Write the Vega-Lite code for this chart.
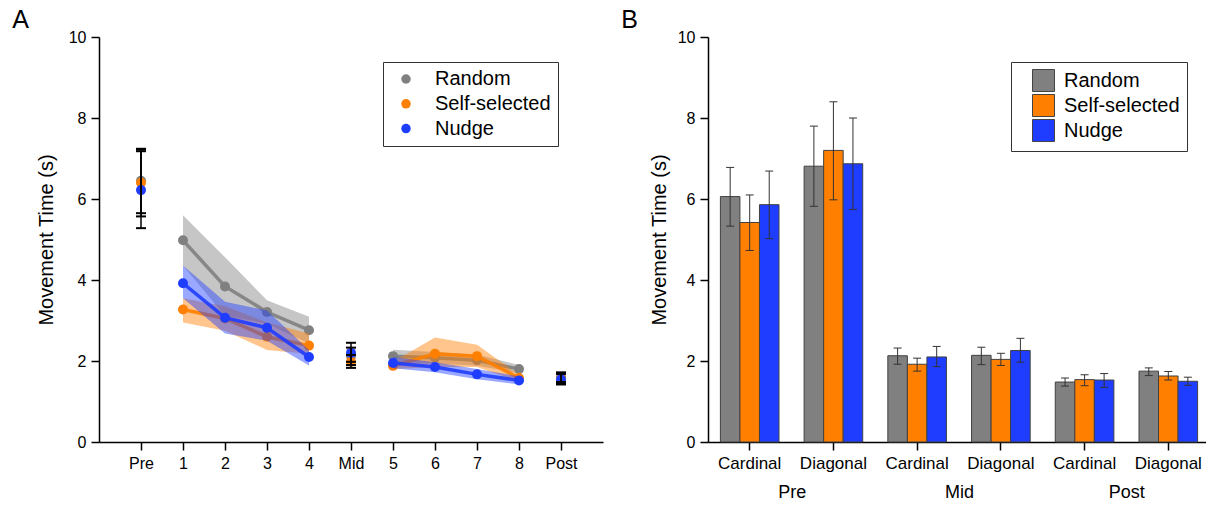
{
  "$schema": "https://vega.github.io/schema/vega-lite/v6.json",
  "padding": {"left": 12, "top": 8, "right": 0, "bottom": 0},
  "background": "white",
  "config": {
    "font": "Liberation Sans",
    "view": {"stroke": null},
    "axis": {"domainColor": "#000", "tickColor": "#000", "labelColor": "#000", "titleColor": "#000", "labelFontSize": 16, "titleFontSize": 20, "titleFontWeight": "normal", "grid": false, "tickSize": 8, "domainWidth": 1.5, "tickWidth": 1.5, "labelPadding": 5},
    "legend": {"labelFontSize": 20, "labelColor": "#000", "strokeColor": "#333", "cornerRadius": 0},
    "title": {"fontSize": 25, "fontWeight": "normal", "anchor": "start", "color": "#000"}
  },
  "datasets": {
    "a": [
      {"x": "Pre", "grp": "Random", "seg": "Pre", "m": 6.45, "lo": 5.65, "hi": 7.24},
      {"x": "1", "grp": "Random", "seg": "early", "m": 4.98, "lo": 4.36, "hi": 5.6},
      {"x": "2", "grp": "Random", "seg": "early", "m": 3.84, "lo": 3.12, "hi": 4.56},
      {"x": "3", "grp": "Random", "seg": "early", "m": 3.21, "lo": 2.92, "hi": 3.5},
      {"x": "4", "grp": "Random", "seg": "early", "m": 2.76, "lo": 2.43, "hi": 3.09},
      {"x": "Mid", "grp": "Random", "seg": "Mid", "m": 2.12, "lo": 1.9, "hi": 2.33},
      {"x": "5", "grp": "Random", "seg": "late", "m": 2.12, "lo": 1.97, "hi": 2.28},
      {"x": "6", "grp": "Random", "seg": "late", "m": 2.08, "lo": 1.94, "hi": 2.22},
      {"x": "7", "grp": "Random", "seg": "late", "m": 2.02, "lo": 1.88, "hi": 2.16},
      {"x": "8", "grp": "Random", "seg": "late", "m": 1.8, "lo": 1.7, "hi": 1.9},
      {"x": "Post", "grp": "Random", "seg": "Post", "m": 1.6, "lo": 1.48, "hi": 1.72},
      {"x": "Pre", "grp": "Self-selected", "seg": "Pre", "m": 6.4, "lo": 5.57, "hi": 7.22},
      {"x": "1", "grp": "Self-selected", "seg": "early", "m": 3.27, "lo": 2.95, "hi": 3.55},
      {"x": "2", "grp": "Self-selected", "seg": "early", "m": 3.05, "lo": 2.75, "hi": 3.35},
      {"x": "3", "grp": "Self-selected", "seg": "early", "m": 2.6, "lo": 2.27, "hi": 2.95},
      {"x": "4", "grp": "Self-selected", "seg": "early", "m": 2.38, "lo": 2.17, "hi": 2.68},
      {"x": "Mid", "grp": "Self-selected", "seg": "Mid", "m": 1.98, "lo": 1.83, "hi": 2.15},
      {"x": "5", "grp": "Self-selected", "seg": "late", "m": 1.88, "lo": 1.8, "hi": 1.98},
      {"x": "6", "grp": "Self-selected", "seg": "late", "m": 2.18, "lo": 1.85, "hi": 2.58},
      {"x": "7", "grp": "Self-selected", "seg": "late", "m": 2.12, "lo": 1.85, "hi": 2.4},
      {"x": "8", "grp": "Self-selected", "seg": "late", "m": 1.58, "lo": 1.5, "hi": 1.66},
      {"x": "Post", "grp": "Self-selected", "seg": "Post", "m": 1.57, "lo": 1.44, "hi": 1.7},
      {"x": "Pre", "grp": "Nudge", "seg": "Pre", "m": 6.22, "lo": 5.28, "hi": 7.18},
      {"x": "1", "grp": "Nudge", "seg": "early", "m": 3.92, "lo": 3.55, "hi": 4.36},
      {"x": "2", "grp": "Nudge", "seg": "early", "m": 3.07, "lo": 2.68, "hi": 3.46},
      {"x": "3", "grp": "Nudge", "seg": "early", "m": 2.82, "lo": 2.5, "hi": 3.25},
      {"x": "4", "grp": "Nudge", "seg": "early", "m": 2.1, "lo": 1.89, "hi": 2.27},
      {"x": "Mid", "grp": "Nudge", "seg": "Mid", "m": 2.2, "lo": 1.98, "hi": 2.45},
      {"x": "5", "grp": "Nudge", "seg": "late", "m": 1.95, "lo": 1.82, "hi": 2.1},
      {"x": "6", "grp": "Nudge", "seg": "late", "m": 1.85, "lo": 1.72, "hi": 1.97},
      {"x": "7", "grp": "Nudge", "seg": "late", "m": 1.67, "lo": 1.55, "hi": 1.8},
      {"x": "8", "grp": "Nudge", "seg": "late", "m": 1.52, "lo": 1.42, "hi": 1.62},
      {"x": "Post", "grp": "Nudge", "seg": "Post", "m": 1.55, "lo": 1.42, "hi": 1.68}
    ],
    "b": [
      {"cond": "Pre|Cardinal", "phase": "Pre", "grp": "Random", "m": 6.06, "lo": 5.33, "hi": 6.78},
      {"cond": "Pre|Cardinal", "phase": "Pre", "grp": "Self-selected", "m": 5.42, "lo": 4.73, "hi": 6.1},
      {"cond": "Pre|Cardinal", "phase": "Pre", "grp": "Nudge", "m": 5.86, "lo": 5.02, "hi": 6.69},
      {"cond": "Pre|Diagonal", "phase": "Pre", "grp": "Random", "m": 6.81, "lo": 5.82, "hi": 7.8},
      {"cond": "Pre|Diagonal", "phase": "Pre", "grp": "Self-selected", "m": 7.2, "lo": 5.98, "hi": 8.4},
      {"cond": "Pre|Diagonal", "phase": "Pre", "grp": "Nudge", "m": 6.87, "lo": 5.74, "hi": 8.0},
      {"cond": "Mid|Cardinal", "phase": "Mid", "grp": "Random", "m": 2.13, "lo": 1.92, "hi": 2.32},
      {"cond": "Mid|Cardinal", "phase": "Mid", "grp": "Self-selected", "m": 1.92, "lo": 1.75, "hi": 2.07},
      {"cond": "Mid|Cardinal", "phase": "Mid", "grp": "Nudge", "m": 2.1, "lo": 1.86, "hi": 2.36},
      {"cond": "Mid|Diagonal", "phase": "Mid", "grp": "Random", "m": 2.14, "lo": 1.91, "hi": 2.34},
      {"cond": "Mid|Diagonal", "phase": "Mid", "grp": "Self-selected", "m": 2.04, "lo": 1.89, "hi": 2.19},
      {"cond": "Mid|Diagonal", "phase": "Mid", "grp": "Nudge", "m": 2.26, "lo": 1.97, "hi": 2.56},
      {"cond": "Post|Cardinal", "phase": "Post", "grp": "Random", "m": 1.48, "lo": 1.38, "hi": 1.58},
      {"cond": "Post|Cardinal", "phase": "Post", "grp": "Self-selected", "m": 1.54, "lo": 1.39, "hi": 1.66},
      {"cond": "Post|Cardinal", "phase": "Post", "grp": "Nudge", "m": 1.53, "lo": 1.35, "hi": 1.69},
      {"cond": "Post|Diagonal", "phase": "Post", "grp": "Random", "m": 1.75, "lo": 1.64, "hi": 1.83},
      {"cond": "Post|Diagonal", "phase": "Post", "grp": "Self-selected", "m": 1.63, "lo": 1.53, "hi": 1.74},
      {"cond": "Post|Diagonal", "phase": "Post", "grp": "Nudge", "m": 1.5, "lo": 1.4, "hi": 1.6}
    ]
  },
  "hconcat": [
    {
      "width": 504,
      "height": 405,
      "title": {"text": "A", "dx": -24, "offset": -4},
      "data": {"name": "a"},
      "encoding": {
        "x": {"field": "x", "type": "ordinal", "scale": {"type": "point", "padding": 1, "domain": ["Pre", "1", "2", "3", "4", "Mid", "5", "6", "7", "8", "Post"]}, "axis": {"title": null, "labelAngle": 0}}
      },
      "layer": [
        {"transform": [{"filter": "datum.grp === 'Random' && (datum.seg === 'early' || datum.seg === 'late')"}],
         "mark": {"type": "area", "opacity": 0.45},
         "encoding": {"y": {"field": "lo", "type": "quantitative", "scale": {"domain": [0, 10], "nice": false}, "axis": {"title": "Movement Time (s)", "values": [0, 2, 4, 6, 8, 10], "titlePadding": 12}}, "y2": {"field": "hi"}, "color": {"field": "grp", "type": "nominal"}, "detail": {"field": "seg"}}},
        {"transform": [{"filter": "datum.grp === 'Random' && (datum.seg === 'early' || datum.seg === 'late')"}],
         "mark": {"type": "line", "strokeWidth": 3.5, "opacity": 0.9},
         "encoding": {"y": {"field": "m", "type": "quantitative"}, "color": {"field": "grp", "type": "nominal"}, "detail": {"field": "seg"}}},
        {"transform": [{"filter": "datum.grp === 'Random'"}],
         "mark": {"type": "circle", "size": 100, "opacity": 1},
         "encoding": {"y": {"field": "m", "type": "quantitative"}, "color": {"field": "grp", "type": "nominal"}}},
        {"transform": [{"filter": "datum.grp === 'Self-selected' && (datum.seg === 'early' || datum.seg === 'late')"}],
         "mark": {"type": "area", "opacity": 0.45},
         "encoding": {"y": {"field": "lo", "type": "quantitative"}, "y2": {"field": "hi"}, "color": {"field": "grp", "type": "nominal"}, "detail": {"field": "seg"}}},
        {"transform": [{"filter": "datum.grp === 'Self-selected' && (datum.seg === 'early' || datum.seg === 'late')"}],
         "mark": {"type": "line", "strokeWidth": 3.5, "opacity": 0.9},
         "encoding": {"y": {"field": "m", "type": "quantitative"}, "color": {"field": "grp", "type": "nominal"}, "detail": {"field": "seg"}}},
        {"transform": [{"filter": "datum.grp === 'Self-selected'"}],
         "mark": {"type": "circle", "size": 100, "opacity": 1},
         "encoding": {"y": {"field": "m", "type": "quantitative"}, "color": {"field": "grp", "type": "nominal"}}},
        {"transform": [{"filter": "datum.grp === 'Nudge' && (datum.seg === 'early' || datum.seg === 'late')"}],
         "mark": {"type": "area", "opacity": 0.45},
         "encoding": {"y": {"field": "lo", "type": "quantitative"}, "y2": {"field": "hi"}, "color": {"field": "grp", "type": "nominal"}, "detail": {"field": "seg"}}},
        {"transform": [{"filter": "datum.grp === 'Nudge' && (datum.seg === 'early' || datum.seg === 'late')"}],
         "mark": {"type": "line", "strokeWidth": 3.5, "opacity": 0.9},
         "encoding": {"y": {"field": "m", "type": "quantitative"}, "color": {"field": "grp", "type": "nominal"}, "detail": {"field": "seg"}}},
        {"transform": [{"filter": "datum.grp === 'Nudge'"}],
         "mark": {"type": "circle", "size": 100, "opacity": 1},
         "encoding": {"y": {"field": "m", "type": "quantitative"},
           "color": {"field": "grp", "type": "nominal",
             "scale": {"domain": ["Random", "Self-selected", "Nudge"], "range": ["#808080", "#ff7f00", "#1f3dff"]},
             "legend": {"orient": "none", "legendX": 284, "legendY": 25, "title": null, "padding": 7, "symbolType": "circle", "symbolSize": 90, "symbolOffset": 6, "labelOffset": 19, "rowPadding": 4.8, "symbolStrokeWidth": 0, "symbolOpacity": 1,
               "encode": {"symbols": {"update": {"opacity": {"value": 1}, "fillOpacity": {"value": 1}, "strokeWidth": {"value": 0}}}}}}}},
        {"transform": [{"filter": "datum.seg === 'Pre' || datum.seg === 'Mid' || datum.seg === 'Post'"}],
         "mark": {"type": "rule", "color": "#000", "strokeWidth": 1.5},
         "encoding": {"y": {"field": "lo", "type": "quantitative"}, "y2": {"field": "hi"}}},
        {"transform": [{"filter": "datum.seg === 'Pre' || datum.seg === 'Mid' || datum.seg === 'Post'"}],
         "mark": {"type": "tick", "color": "#000", "size": 10, "thickness": 2, "opacity": 1},
         "encoding": {"y": {"field": "lo", "type": "quantitative"}}},
        {"transform": [{"filter": "datum.seg === 'Pre' || datum.seg === 'Mid' || datum.seg === 'Post'"}],
         "mark": {"type": "tick", "color": "#000", "size": 10, "thickness": 2, "opacity": 1},
         "encoding": {"y": {"field": "hi", "type": "quantitative"}}}
      ]
    },
    {
      "width": 502,
      "height": 405,
      "title": {"text": "B", "dx": -28, "offset": -4},
      "data": {"name": "b"},
      "layer": [
        {
          "encoding": {
            "x": {"field": "cond", "type": "nominal", "scale": {"domain": ["Pre|Cardinal", "Pre|Diagonal", "Mid|Cardinal", "Mid|Diagonal", "Post|Cardinal", "Post|Diagonal"], "paddingInner": 0.3, "paddingOuter": 0.148}, "axis": {"title": null, "labelAngle": 0, "labelFontSize": 17, "labelExpr": "split(datum.label, '|')[1]"}},
            "xOffset": {"field": "grp", "type": "nominal", "scale": {"domain": ["Random", "Self-selected", "Nudge"], "paddingInner": 0, "paddingOuter": 0}}
          },
          "layer": [
            {"mark": {"type": "bar", "stroke": "#404040", "strokeWidth": 1},
             "encoding": {"y": {"field": "m", "type": "quantitative", "scale": {"domain": [0, 10], "nice": false}, "axis": {"title": "Movement Time (s)", "values": [0, 2, 4, 6, 8, 10], "titlePadding": 8}},
               "color": {"field": "grp", "type": "nominal", "scale": {"domain": ["Random", "Self-selected", "Nudge"], "range": ["#808080", "#ff7f00", "#1f3dff"]},
                 "legend": {"orient": "none", "legendX": 303, "legendY": 25, "title": null, "padding": 7, "symbolType": "square", "symbolSize": 484, "symbolOffset": 14, "labelOffset": 9, "rowPadding": -2, "symbolStrokeColor": "#444", "symbolStrokeWidth": 1, "symbolOpacity": 1}}}},
            {"mark": {"type": "rule", "color": "#333", "strokeWidth": 1},
             "encoding": {"y": {"field": "lo", "type": "quantitative"}, "y2": {"field": "hi"}}},
            {"mark": {"type": "tick", "color": "#333", "size": 8, "thickness": 1, "opacity": 1},
             "encoding": {"y": {"field": "lo", "type": "quantitative"}}},
            {"mark": {"type": "tick", "color": "#333", "size": 8, "thickness": 1, "opacity": 1},
             "encoding": {"y": {"field": "hi", "type": "quantitative"}}}
          ]
        },
        {
          "mark": {"type": "point", "opacity": 0},
          "encoding": {
            "x": {"field": "phase", "type": "nominal", "scale": {"domain": ["Pre", "Mid", "Post"], "paddingInner": 0, "paddingOuter": 0}, "axis": {"orient": "bottom", "title": null, "labelAngle": 0, "domain": false, "ticks": false, "labelFontSize": 18, "offset": 36}},
            "y": {"field": "m", "type": "quantitative"}
          }
        }
      ],
      "resolve": {"scale": {"x": "independent"}, "axis": {"x": "independent"}}
    }
  ],
  "spacing": 18,
  "resolve": {"legend": {"color": "independent"}, "scale": {"color": "independent"}}
}
